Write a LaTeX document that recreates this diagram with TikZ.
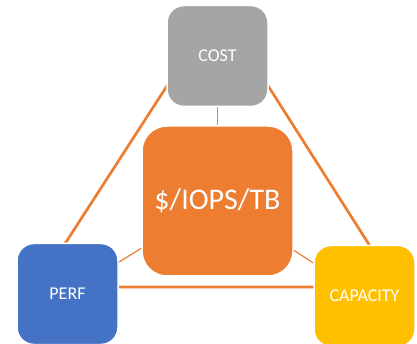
\documentclass[tikz,border=0pt]{standalone}
\usepackage{fontspec}
\setmainfont{Carlito}
\definecolor{costgray}{HTML}{A5A5A5}
\definecolor{midorange}{HTML}{ED7D31}
\definecolor{perfblue}{HTML}{4472C4}
\definecolor{capyellow}{HTML}{FFC000}
\pgfdeclarelayer{background}
\pgfsetlayers{background,main}
\tikzset{
  box/.style={draw=white, line width=1.5pt, text=white, font=\fontsize{18}{20}\selectfont, inner sep=0pt},
  smallbox/.style={box, minimum width=101pt, minimum height=101pt, rounded corners=17pt},
  thickline/.style={draw=midorange, line width=2.7pt, line join=round},
  thinline/.style={draw=midorange, line width=1.2pt}
}
\begin{document}
\begin{tikzpicture}[x=1pt,y=-1pt]
\useasboundingbox (0,0) rectangle (417,344);
\node[smallbox, fill=costgray] (cost) at (217.5,56) {COST};
\node[box, fill=midorange, minimum width=151pt, minimum height=150pt, rounded corners=25pt, font=\fontsize{30}{34}\selectfont] (mid) at (217.5,201) {\$/IOPS/TB};
\node[smallbox, fill=perfblue] (perf) at (67.5,294) {PERF};
\node[smallbox, fill=capyellow] (cap) at (364.5,296) {CAPACITY};
\coordinate (tA) at (218,7);
\coordinate (tB) at (37,287);
\coordinate (tC) at (396,287);
\begin{pgfonlayer}{background}
\draw[thickline] (tA) -- (tB) -- (tC) -- cycle;
\draw[thinline] (cost.center) -- (mid.center);
\draw[thinline] (mid.center) -- (perf.center);
\draw[thinline] (mid.center) -- (cap.center);
\end{pgfonlayer}
\end{tikzpicture}
\end{document}
